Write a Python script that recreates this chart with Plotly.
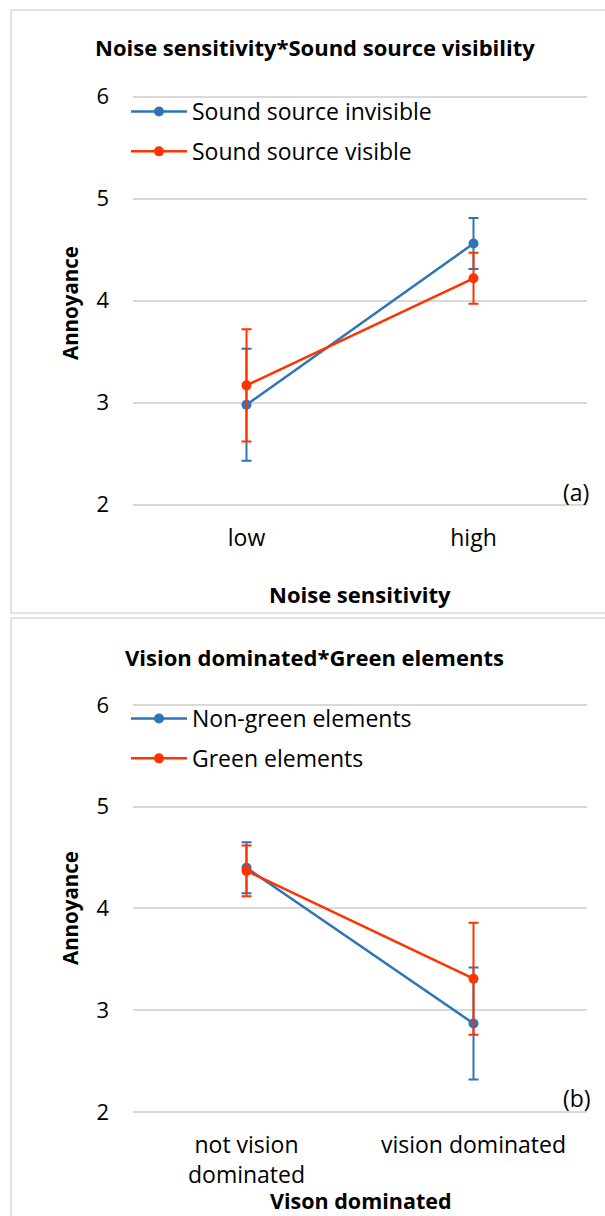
import plotly.graph_objects as go

W, H = 605, 1216

# ---------------- data ----------------
cats_a = ["low", "high"]
invisible_mean = [2.98, 4.56]
invisible_err = [0.55, 0.25]
visible_mean = [3.17, 4.22]
visible_err = [0.55, 0.25]

cats_b = ["not vision<br>dominated", "vision dominated"]
nongreen_mean = [4.40, 2.87]
nongreen_err = [0.25, 0.55]
green_mean = [4.37, 3.31]
green_err = [0.25, 0.55]

yticks = [2, 3, 4, 5, 6]

BLUE = "#2E75B6"
RED = "#FF3300"
GRID = "#D9D9D9"
FONT = "Open Sans"
TXT = "#000000"

def px_x(p):
    return p / W

def px_y(p):
    return 1 - p / H

fig = go.Figure()

def add_series(x, y, err, color, name, xa, ya, legend, group):
    fig.add_trace(go.Scatter(
        x=x, y=y, name=name, mode="lines+markers",
        line=dict(color=color, width=2.5),
        marker=dict(color=color, size=10),
        error_y=dict(type="data", array=err, visible=True, color=color,
                     thickness=2, width=5),
        xaxis=xa, yaxis=ya, legend=legend, legendgroup=group,
    ))

add_series(cats_a, invisible_mean, invisible_err, BLUE, "Sound source invisible", "x", "y", "legend", "a1")
add_series(cats_a, visible_mean, visible_err, RED, "Sound source visible", "x", "y", "legend", "a2")
add_series(cats_b, nongreen_mean, nongreen_err, BLUE, "Non-green elements", "x2", "y2", "legend2", "b1")
add_series(cats_b, green_mean, green_err, RED, "Green elements", "x2", "y2", "legend2", "b2")

PAD = 0.03  # extra range so the 2 and 6 gridlines are not clipped
ua = 102.0
ub = 101.75
xdom = [px_x(133), px_x(587)]
ydom_a = [px_y(504.7 + PAD * ua), px_y(96.7 - PAD * ua)]
ydom_b = [px_y(1112 + PAD * ub), px_y(705 - PAD * ub)]

xcommon = dict(domain=xdom, range=[-0.5, 1.5], showgrid=False, showline=False,
               zeroline=False, ticks="", automargin=False,
               tickfont=dict(family=FONT, size=23, color=TXT),
               ticklabelstandoff=14)
ycommon = dict(range=[2 - PAD, 6 + PAD], tickvals=yticks, showgrid=True, gridcolor=GRID,
               gridwidth=1.5, showline=False, zeroline=False, ticks="", automargin=False,
               tickfont=dict(family=FONT, size=22, color=TXT), ticklabelstandoff=23)

fig.update_layout(
    width=W, height=H, autosize=False,
    margin=dict(l=0, r=0, t=0, b=0, autoexpand=False),
    paper_bgcolor="white", plot_bgcolor="white",
    showlegend=True,
    xaxis=dict(**xcommon, anchor="y", type="category"),
    yaxis=dict(**ycommon, domain=ydom_a, anchor="x"),
    xaxis2=dict(**xcommon, anchor="y2", type="category"),
    yaxis2=dict(**ycommon, domain=ydom_b, anchor="x2"),
    legend=dict(x=px_x(126), y=px_y(90), xanchor="left", yanchor="top",
                bgcolor="rgba(0,0,0,0)", font=dict(family=FONT, size=23, color=TXT),
                tracegroupgap=7, itemwidth=56),
    legend2=dict(x=px_x(126), y=px_y(697), xanchor="left", yanchor="top",
                 bgcolor="rgba(0,0,0,0)", font=dict(family=FONT, size=23, color=TXT),
                 tracegroupgap=7, itemwidth=56),
)

shapes = [
    dict(type="rect", xref="paper", yref="paper", x0=px_x(11), x1=1.05,
         y0=px_y(613), y1=px_y(10), line=dict(color=GRID, width=1.5), layer="below"),
    dict(type="rect", xref="paper", yref="paper", x0=px_x(11), x1=1.05,
         y0=-0.05, y1=px_y(618), line=dict(color=GRID, width=1.5), layer="below"),
]
fig.update_layout(shapes=shapes)

def ann(text, x, y, size=23, bold=False, angle=0):
    t = f"<b>{text}</b>" if bold else text
    return dict(text=t, x=px_x(x), y=px_y(y), xref="paper", yref="paper",
                showarrow=False, xanchor="center", yanchor="middle",
                textangle=angle, font=dict(family=FONT, size=size, color=TXT))

fig.update_layout(annotations=[
    ann("Noise sensitivity*Sound source visibility", 315, 47, size=22, bold=True),
    ann("Annoyance", 70, 303, size=20.5, bold=True, angle=-90),
    ann("Noise sensitivity", 360, 594, size=22, bold=True),
    ann("(a)", 576, 492, size=23),
    ann("Vision dominated*Green elements", 314, 657, size=22, bold=True),
    ann("Annoyance", 70, 908, size=20.5, bold=True, angle=-90),
    ann("Vison dominated", 361, 1200, size=21.5, bold=True),
    ann("(b)", 577, 1098, size=23),
])

fig.write_html("out.html")
